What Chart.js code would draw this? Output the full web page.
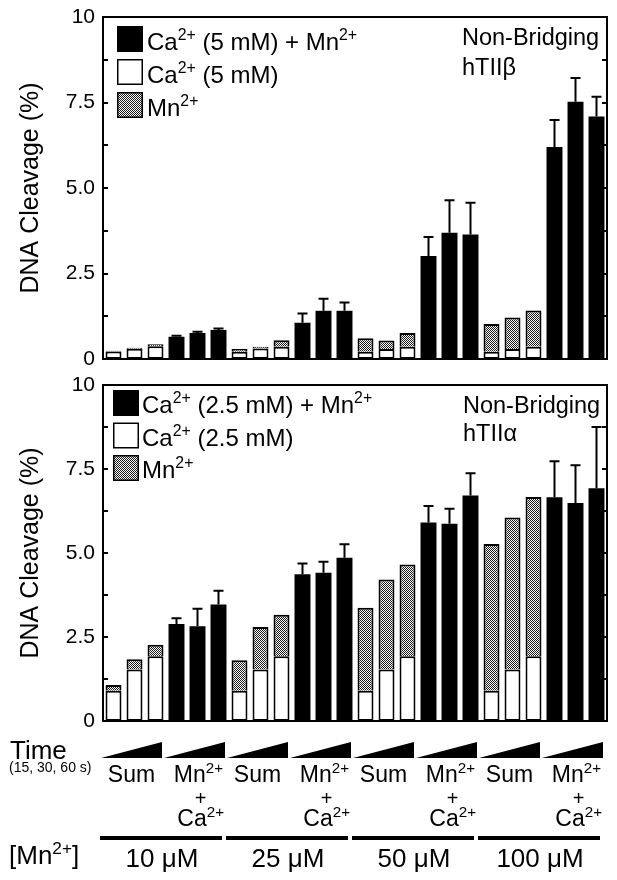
<!DOCTYPE html>
<html>
<head>
<meta charset="utf-8">
<script src="https://cdn.jsdelivr.net/npm/chart.js@4.4.0/dist/chart.umd.min.js"></script>
<style>
  body { margin: 0; background: #fff; width: 617px; height: 880px; position: relative; overflow: hidden; }
  .box { position: absolute; left: 0; width: 617px; }
</style>
</head>
<body>
<div class="box" style="top:0;height:372px"><canvas id="chartBeta"></canvas></div>
<div class="box" style="top:372px;height:508px"><canvas id="chartAlpha"></canvas></div>
<script>
// categories
const mnConc = ['10 μM', '25 μM', '50 μM', '100 μM'];
const kinds = ['Sum', 'Mn2+ + Ca2+'];
const timePoints = ['15 s', '30 s', '60 s'];

// y ticks
const yTicks = [0, 1.25, 2.5, 3.75, 5, 6.25, 7.5, 8.75, 10];

// hTIIβ (top) - Sum bars: Ca only + Mn only, 3 times per [Mn]
const betaCa = [0.22, 0.30, 0.37, 0.21, 0.31, 0.36, 0.21, 0.29, 0.36, 0.21, 0.29, 0.36];
const betaMn = [0.02, 0.03, 0.06, 0.08, 0.05, 0.19, 0.40, 0.25, 0.40, 0.81, 0.92, 1.06];
// Ca + Mn together, with error
const betaBoth = [0.65, 0.76, 0.85, 1.06, 1.41, 1.41, 3.01, 3.69, 3.64, 6.20, 7.52, 7.09];
const betaErr = [0.03, 0.04, 0.04, 0.27, 0.35, 0.24, 0.56, 0.95, 0.93, 0.79, 0.70, 0.58];

// hTIIα (bottom)
const alphaCa = [0.90, 1.53, 1.93, 0.90, 1.53, 1.93, 0.90, 1.53, 1.93, 0.90, 1.53, 1.93];
const alphaMn = [0.17, 0.31, 0.34, 0.91, 1.27, 1.23, 2.47, 2.68, 2.73, 4.37, 4.53, 4.74];
const alphaBoth = [2.89, 2.82, 3.47, 4.37, 4.41, 4.86, 5.91, 5.87, 6.71, 6.66, 6.49, 6.93];
const alphaErr = [0.17, 0.52, 0.41, 0.32, 0.33, 0.40, 0.49, 0.45, 0.66, 1.07, 1.12, 1.82];

const FONT = "'Liberation Sans', Arial, Helvetica, sans-serif";
Chart.defaults.font.family = FONT;
Chart.defaults.color = '#000';

// labels: [Mn] x kind x time
const labels = [];
mnConc.forEach(c => kinds.forEach(k => timePoints.forEach(t => labels.push(c + ' ' + k + ' ' + t))));

// spread 12 values into 24 slots (sum slots or both slots)
function spread(vals, kind) {
  const out = new Array(24).fill(null);
  vals.forEach((v, i) => {
    const g = Math.floor(i / 3), k = i % 3;
    out[g * 6 + kind * 3 + k] = v;
  });
  return out;
}

// stipple fill for the Mn2+ bars
function makeHatch() {
  const c = document.createElement('canvas');
  c.width = 4; c.height = 4;
  const x = c.getContext('2d');
  x.fillStyle = '#fff';
  x.fillRect(0, 0, 4, 4);
  x.fillStyle = '#1a1a1a';
  for (let i = 0; i < 4; i++)
    for (let j = 0; j < 4; j++)
      if ((i + j) % 2 === 0) x.fillRect(i, j, 1, 1);
  return x.createPattern(c, 'repeat');
}
const hatch = makeHatch();

// text with superscripts: odd entries are raised
function rich(ctx, parts, x, y, size, align) {
  const sup = size * 0.66;
  const widths = parts.map((p, i) => {
    ctx.font = (i % 2 ? sup : size) + 'px ' + FONT;
    return ctx.measureText(p).width;
  });
  const total = widths.reduce((a, b) => a + b, 0);
  let cx = align === 'right' ? x - total : align === 'center' ? x - total / 2 : x;
  ctx.textAlign = 'left';
  ctx.textBaseline = 'alphabetic';
  parts.forEach((p, i) => {
    ctx.font = (i % 2 ? sup : size) + 'px ' + FONT;
    ctx.fillText(p, cx, i % 2 ? y - size * 0.4 : y);
    cx += widths[i];
  });
  return total;
}

const panelPlugin = {
  id: 'panel',
  afterDatasetsDraw(chart, args, opts) {
    const ctx = chart.ctx;
    const y = chart.scales.y;
    const meta = chart.getDatasetMeta(2);
    ctx.save();
    ctx.strokeStyle = '#000';
    ctx.lineWidth = 2;
    // error bars on the black bars
    opts.err.forEach((e, i) => {
      if (e == null) return;
      const bar = meta.data[i];
      const top = y.getPixelForValue(chart.data.datasets[2].data[i] + e);
      ctx.beginPath();
      ctx.moveTo(bar.x, bar.y);
      ctx.lineTo(bar.x, top);
      ctx.moveTo(bar.x - 5, top);
      ctx.lineTo(bar.x + 5, top);
      ctx.stroke();
    });
    ctx.restore();
  },
  afterDraw(chart, args, opts) {
    const ctx = chart.ctx;
    const a = chart.chartArea;
    const y = chart.scales.y;
    const x = chart.scales.x;
    ctx.save();
    ctx.strokeStyle = '#000';
    ctx.fillStyle = '#000';
    ctx.lineWidth = 2;
    ctx.strokeRect(a.left, a.top, a.right - a.left, a.bottom - a.top);
    // inward ticks, both sides
    ctx.beginPath();
    y.ticks.forEach(t => {
      const py = Math.round(y.getPixelForValue(t.value));
      ctx.moveTo(a.left, py); ctx.lineTo(a.left + 5, py);
      ctx.moveTo(a.right, py); ctx.lineTo(a.right - 5, py);
    });
    ctx.stroke();

    // legend
    const L = opts.legend;
    L.items.forEach((it, i) => {
      const by = L.y + i * L.dy;
      ctx.fillStyle = it.fill;
      ctx.fillRect(L.x, by, L.size, L.size);
      ctx.lineWidth = 1.5;
      ctx.strokeRect(L.x + 0.75, by + 0.75, L.size - 1.5, L.size - 1.5);
      ctx.fillStyle = '#000';
      rich(ctx, it.parts, L.textX, by + L.base, 24, 'left');
    });

    // panel tag
    ctx.font = '23.5px ' + FONT;
    ctx.textAlign = 'left';
    ctx.textBaseline = 'alphabetic';
    opts.tag.lines.forEach((s, i) => ctx.fillText(s, opts.tag.x, opts.tag.y + i * opts.tag.dy));

    // axis annotations under the bottom panel
    if (opts.below) {
      const half = (x.getPixelForValue(1) - x.getPixelForValue(0)) / 2;
      const off = -372;
      rich(ctx, ['Time'], 10, 759 + off, 26, 'left');
      rich(ctx, ['(15, 30, 60 s)'], 9, 772 + off, 14, 'left');
      for (let t = 0; t < 8; t++) {
        const i0 = t * 3;
        const left = x.getPixelForValue(i0) - half;
        const right = x.getPixelForValue(i0 + 2) + half;
        ctx.beginPath();
        ctx.moveTo(left - 2, 758 + off);
        ctx.lineTo(right - 4, 758 + off);
        ctx.lineTo(right - 4, 742 + off);
        ctx.closePath();
        ctx.fill();
        if (t % 2 === 0) {
          rich(ctx, ['Sum'], x.getPixelForValue(i0 + 1) - 3, 782 + off, 23, 'center');
        } else {
          rich(ctx, ['Mn', '2+'], right - 6, 782 + off, 23, 'right');
          const w = rich(ctx, ['Ca', '2+'], right - 5, 826 + off, 23, 'right');
          rich(ctx, ['+'], right - 5 - w / 2, 805 + off, 20, 'center');
        }
      }
      rich(ctx, ['[Mn', '2+', ']'], 9, 864 + off, 26, 'left');
      ctx.lineWidth = 4;
      mnConc.forEach((c, g) => {
        const left = x.getPixelForValue(g * 6) - half;
        const right = x.getPixelForValue(g * 6 + 5) + half;
        ctx.beginPath();
        ctx.moveTo(left - 3, 838 + off);
        ctx.lineTo(right - 7, 838 + off);
        ctx.stroke();
        rich(ctx, [c], (left + right) / 2 - 4, 867 + off, 26, 'center');
      });
    }
    ctx.restore();
  }
};

function makeChart(id, ca, mn, both, err, pad, panel) {
  const ctx = document.getElementById(id).getContext('2d');
  return new Chart(ctx, {
    type: 'bar',
    data: {
      labels: labels,
      datasets: [
        { label: 'Ca', data: spread(ca, 0), backgroundColor: '#fff', borderColor: '#000', borderWidth: 2, borderSkipped: false },
        { label: 'Mn', data: spread(mn, 0), backgroundColor: hatch, borderColor: '#000', borderWidth: 2, borderSkipped: 'bottom' },
        { label: 'Ca+Mn', data: spread(both, 1), backgroundColor: '#000', borderColor: '#000', borderWidth: 0 }
      ]
    },
    options: {
      responsive: true,
      maintainAspectRatio: false,
      animation: false,
      layout: { padding: pad },
      datasets: { bar: { barPercentage: 0.76, categoryPercentage: 1 } },
      plugins: {
        legend: { display: false },
        tooltip: { enabled: false },
        panel: Object.assign({ err: spread(err, 1) }, panel)
      },
      scales: {
        x: { stacked: true, display: false, offset: true },
        y: {
          stacked: true,
          min: 0, max: 10,
          afterFit: s => { s.width = 103; s.paddingTop = 0; s.paddingBottom = 0; },
          afterBuildTicks: s => { s.ticks = yTicks.map(v => ({ value: v })); },
          grid: { display: false, drawTicks: false, tickLength: 0 },
          border: { display: false },
          ticks: {
            autoSkip: false,
            padding: 8,
            font: { size: 21 },
            color: '#000',
            callback: v => {
              if (Math.abs(v / 2.5 - Math.round(v / 2.5)) > 1e-6) return '';
              return (v === 0 || v === 10) ? String(v) : v.toFixed(1);
            }
          },
          title: { display: true, text: 'DNA Cleavage (%)', font: { size: 25 }, color: '#000', padding: { top: 16, bottom: 0 } }
        }
      }
    },
    plugins: [panelPlugin]
  });
}

makeChart('chartBeta', betaCa, betaMn, betaBoth, betaErr,
  { top: 17, bottom: 13, left: 0, right: 10 },
  {
    legend: {
      x: 117, y: 26, dy: 33, size: 26, textX: 147, base: 24,
      items: [
        { fill: '#000', parts: ['Ca', '2+', ' (5 mM) + Mn', '2+'] },
        { fill: '#fff', parts: ['Ca', '2+', ' (5 mM)'] },
        { fill: hatch, parts: ['Mn', '2+'] }
      ]
    },
    tag: { x: 462, y: 45, dy: 30, lines: ['Non-Bridging', 'hTIIβ'] },
    below: false
  });

makeChart('chartAlpha', alphaCa, alphaMn, alphaBoth, alphaErr,
  { top: 13, bottom: 159, left: 0, right: 10 },
  {
    legend: {
      x: 113, y: 18, dy: 32.5, size: 26, textX: 142, base: 23,
      items: [
        { fill: '#000', parts: ['Ca', '2+', ' (2.5 mM) + Mn', '2+'] },
        { fill: '#fff', parts: ['Ca', '2+', ' (2.5 mM)'] },
        { fill: hatch, parts: ['Mn', '2+'] }
      ]
    },
    tag: { x: 463, y: 41, dy: 28, lines: ['Non-Bridging', 'hTIIα'] },
    below: true
  });
</script>
</body>
</html>
